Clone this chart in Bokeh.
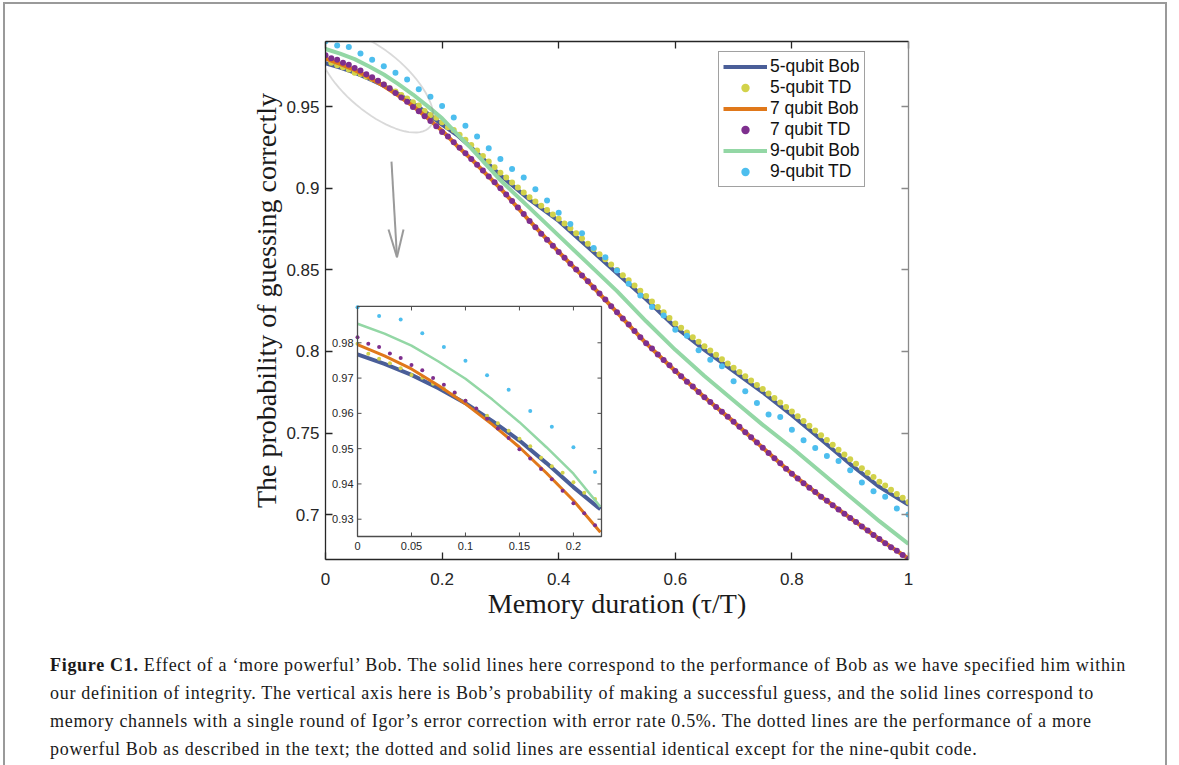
import math
from bokeh.plotting import figure
from bokeh.models import (Range1d, LinearAxis, FixedTicker, Legend, LegendItem,
                          Arrow, PolyAnnotation, Div)
from bokeh.layouts import column
from bokeh.embed import file_html
from bokeh.resources import INLINE
from bokeh.core.properties import value

# ---------------- data ----------------
bob_x = [0.0, 0.025, 0.05, 0.075, 0.1, 0.125, 0.15, 0.175, 0.2, 0.225, 0.25, 0.3, 0.35,
         0.4, 0.45, 0.5, 0.55, 0.6, 0.65, 0.7, 0.75, 0.8, 0.85, 0.9, 0.95, 1.0]
bob5 = [0.9767, 0.9740, 0.9709, 0.9671, 0.9629, 0.9578, 0.9523, 0.9459, 0.9391, 0.9328,
        0.9250, 0.9080, 0.8930, 0.8800, 0.8640, 0.8480, 0.8320, 0.8150, 0.8010, 0.7880,
        0.7750, 0.7610, 0.7460, 0.7310, 0.7170, 0.7060]
bob7 = [0.9795, 0.9763, 0.9726, 0.9679, 0.9627, 0.9568, 0.9504, 0.9431, 0.9353, 0.9263,
        0.9180, 0.9000, 0.8800, 0.8610, 0.8430, 0.8240, 0.8050, 0.7880, 0.7720, 0.7570,
        0.7410, 0.7250, 0.7110, 0.6980, 0.6850, 0.6730]
bob9 = [0.9854, 0.9826, 0.9792, 0.9747, 0.9698, 0.9639, 0.9575, 0.9504, 0.9429, 0.9335,
        0.9245, 0.9050, 0.8880, 0.8710, 0.8540, 0.8370, 0.8185, 0.8010, 0.7850, 0.7700,
        0.7550, 0.7410, 0.7260, 0.7110, 0.6960, 0.6820]

td_x = [round(i * 0.01, 2) for i in range(101)]
td5 = [0.9797, 0.9769, 0.9755, 0.9742, 0.9728, 0.9709, 0.9701, 0.9684, 0.9670, 0.9657,
       0.9636, 0.9613, 0.9593, 0.9572, 0.9551, 0.9528, 0.9507, 0.9474, 0.9450, 0.9432,
       0.9405, 0.9375, 0.9357, 0.9328, 0.9298, 0.9265, 0.9232, 0.9198, 0.9165, 0.9130,
       0.9095, 0.9066, 0.9036, 0.9005, 0.8975, 0.8945, 0.8920, 0.8893, 0.8867, 0.8840,
       0.8813, 0.8785, 0.8755, 0.8724, 0.8692, 0.8660, 0.8628, 0.8596, 0.8565, 0.8533,
       0.8500, 0.8468, 0.8436, 0.8404, 0.8372, 0.8340, 0.8306, 0.8273, 0.8240, 0.8205,
       0.8172, 0.8145, 0.8116, 0.8088, 0.8060, 0.8032, 0.8006, 0.7980, 0.7953, 0.7926,
       0.7900, 0.7874, 0.7848, 0.7822, 0.7795, 0.7770, 0.7742, 0.7715, 0.7688, 0.7660,
       0.7632, 0.7603, 0.7574, 0.7545, 0.7516, 0.7487, 0.7457, 0.7428, 0.7398, 0.7369,
       0.7340, 0.7312, 0.7285, 0.7257, 0.7230, 0.7202, 0.7178, 0.7152, 0.7127, 0.7103,
       0.7078]
td7 = [0.9816, 0.9797, 0.9788, 0.9770, 0.9757, 0.9737, 0.9722, 0.9700, 0.9681, 0.9659,
       0.9636, 0.9614, 0.9585, 0.9557, 0.9530, 0.9498, 0.9472, 0.9442, 0.9413, 0.9381,
       0.9345, 0.9317, 0.9283, 0.9248, 0.9215, 0.9180, 0.9145, 0.9110, 0.9072, 0.9038,
       0.9000, 0.8962, 0.8922, 0.8882, 0.8842, 0.8800, 0.8762, 0.8722, 0.8685, 0.8648,
       0.8610, 0.8575, 0.8538, 0.8502, 0.8465, 0.8430, 0.8392, 0.8355, 0.8318, 0.8278,
       0.8240, 0.8202, 0.8165, 0.8125, 0.8088, 0.8050, 0.8018, 0.7982, 0.7948, 0.7915,
       0.7880, 0.7848, 0.7815, 0.7785, 0.7752, 0.7720, 0.7690, 0.7660, 0.7630, 0.7600,
       0.7570, 0.7538, 0.7505, 0.7475, 0.7442, 0.7410, 0.7378, 0.7345, 0.7315, 0.7282,
       0.7250, 0.7222, 0.7192, 0.7165, 0.7138, 0.7110, 0.7085, 0.7058, 0.7032, 0.7005,
       0.6980, 0.6955, 0.6928, 0.6902, 0.6875, 0.6850, 0.6825, 0.6800, 0.6778, 0.6752,
       0.6728]
td9_x = [round(i * 0.02, 2) for i in range(51)]
td9 = [0.9901, 0.9876, 0.9866, 0.9827, 0.9788, 0.9749, 0.9708, 0.9667, 0.9607, 0.9562,
       0.9504, 0.9434, 0.9384, 0.9318, 0.9245, 0.9180, 0.9119, 0.9066, 0.8994, 0.8925,
       0.8851, 0.8782, 0.8725, 0.8635, 0.8578, 0.8496, 0.8415, 0.8343, 0.8272, 0.8221,
       0.8133, 0.8097, 0.8007, 0.7950, 0.7909, 0.7817, 0.7756, 0.7684, 0.7613, 0.7598,
       0.7521, 0.7456, 0.7409, 0.7360, 0.7329, 0.7272, 0.7197, 0.7144, 0.7109, 0.7038,
       0.7001]

series_labels = ["5-qubit Bob", "5-qubit TD", "7 qubit Bob", "7 qubit TD", "9-qubit Bob", "9-qubit TD"]

x_ticks = [0, 0.2, 0.4, 0.6, 0.8, 1.0]
x_tick_labels = ["0", "0.2", "0.4", "0.6", "0.8", "1"]
y_ticks = [0.7, 0.75, 0.8, 0.85, 0.9, 0.95]
y_tick_labels = ["0.7", "0.75", "0.8", "0.85", "0.9", "0.95"]
inset_x_ticks = [0, 0.05, 0.1, 0.15, 0.2]
inset_x_labels = ["0", "0.05", "0.1", "0.15", "0.2"]
inset_y_ticks = [0.93, 0.94, 0.95, 0.96, 0.97, 0.98]
inset_y_labels = ["0.93", "0.94", "0.95", "0.96", "0.97", "0.98"]

caption_lines = [
    "<b>Figure C1.</b> Effect of a \u2018more powerful\u2019 Bob. The solid lines here correspond to the performance of Bob as we have specified him within",
    "our definition of integrity. The vertical axis here is Bob\u2019s probability of making a successful guess, and the solid lines correspond to",
    "memory channels with a single round of Igor\u2019s error correction with error rate 0.5%. The dotted lines are the performance of a more",
    "powerful Bob as described in the text; the dotted and solid lines are essential identical except for the nine-qubit code.",
]

# ---------------- styles ----------------
C_B5, C_T5 = "#4a5e98", "#d2d24a"
C_B7, C_T7 = "#e0781a", "#7e2f8e"
C_B9, C_T9 = "#93d7a5", "#4dbeee"
AX = "#262626"
SANS = "Liberation Sans"
SERIF = "Liberation Serif"

W, H = 1160, 636
FL, FR, FT, FB = 320, 257, 37, 81
p = figure(width=W, height=H, x_range=Range1d(0, 1), y_range=Range1d(0.6725, 0.99),
           output_backend="svg", toolbar_location=None,
           min_border_left=FL, min_border_right=FR, min_border_top=FT, min_border_bottom=FB)
p.grid.visible = False
p.outline_line_color = None
p.background_fill_color = "white"
p.border_fill_color = "white"
PX_X = (W - FL - FR) / (p.x_range.end - p.x_range.start)   # pixels per x unit
PX_Y = (H - FT - FB) / (p.y_range.end - p.y_range.start)   # pixels per y unit

def style_axis(ax, ticks, labels, color=AX, show_labels=True):
    ax.ticker = FixedTicker(ticks=ticks)
    ax.major_label_overrides = {t: l for t, l in zip(ticks, labels)}
    ax.major_tick_in = 7
    ax.major_tick_out = 0
    ax.minor_tick_line_color = None
    ax.axis_line_color = color
    ax.axis_line_width = 1.3
    ax.major_tick_line_color = color
    ax.major_tick_line_width = 1.3
    ax.major_label_text_font = SANS
    ax.major_label_text_font_size = "17px"
    ax.major_label_text_color = AX if show_labels else None

style_axis(p.xaxis[0], x_ticks, x_tick_labels)
style_axis(p.yaxis[0], y_ticks, y_tick_labels)
p.xaxis[0].major_label_standoff = 13
p.yaxis[0].major_label_standoff = 6
p.xaxis[0].axis_label = "Memory duration (\u03c4/T)"
p.yaxis[0].axis_label = "The probability of guessing correctly"
for ax in (p.xaxis[0], p.yaxis[0]):
    ax.axis_label_text_font = SERIF
    ax.axis_label_text_font_size = "28px"
    ax.axis_label_text_font_style = "normal"
    ax.axis_label_text_color = "#1a1a1a"
p.xaxis[0].axis_label_standoff = 0
p.yaxis[0].axis_label_standoff = 1

top_ax = LinearAxis()
style_axis(top_ax, x_ticks, x_tick_labels, show_labels=False)
top_ax.major_label_text_font_size = "0px"
p.add_layout(top_ax, "above")
right_ax = LinearAxis()
style_axis(right_ax, y_ticks, y_tick_labels, color="#8a8a8a", show_labels=False)
right_ax.major_label_text_font_size = "0px"
p.add_layout(right_ax, "right")

# ---------------- main curves ----------------
r_b5 = p.line(bob_x, bob5, line_color=C_B5, line_width=4)
r_t5 = p.scatter(td_x, td5, marker="circle", size=6, fill_color=C_T5, line_color=None)
r_b7 = p.line(bob_x, bob7, line_color=C_B7, line_width=4)
r_t7 = p.scatter(td_x, td7, marker="circle", size=6, fill_color=C_T7, line_color=None)
r_b9 = p.line(bob_x, bob9, line_color=C_B9, line_width=4)
r_t9 = p.scatter(td9_x, td9, marker="circle", size=6, fill_color=C_T9, line_color=None)

# zoom ellipse and arrow (decorations)
ell_cx, ell_cy, ell_a, ell_b, ell_th = 0.0866, 0.9655, 70.5, 30.5, -0.70
ell_xs, ell_ys = [], []
for k in range(73):
    t = 2 * math.pi * k / 72
    dx = ell_a * math.cos(t) * math.cos(ell_th) - ell_b * math.sin(t) * math.sin(ell_th)
    dy = ell_a * math.cos(t) * math.sin(ell_th) + ell_b * math.sin(t) * math.cos(ell_th)
    ell_xs.append(ell_cx + dx / PX_X)
    ell_ys.append(ell_cy + dy / PX_Y)
p.add_layout(PolyAnnotation(xs=ell_xs, ys=ell_ys, fill_alpha=0, fill_color=None,
                            line_color="#808080", line_width=1.8, level="overlay"))
ARW = dict(line_color="#9a9a9a", line_width=2, end=None, level="overlay")
p.add_layout(Arrow(x_start=0.1132, y_start=0.9164, x_end=0.1226, y_end=0.8578, **ARW))
p.add_layout(Arrow(x_start=0.1081, y_start=0.8748, x_end=0.1226, y_end=0.8578, **ARW))
p.add_layout(Arrow(x_start=0.1338, y_start=0.8748, x_end=0.1226, y_end=0.8578, **ARW))

# ---------------- inset (sub-coordinates) ----------------
ix = Range1d(0, 0.226)
iy = Range1d(0.9251, 0.9903)
sub = p.subplot(x_source=ix, y_source=iy,
                x_target=Range1d(0.0549, 0.4734), y_target=Range1d(0.6866, 0.8276))
INSET_W = (0.4734 - 0.0549) * PX_X
INSET_H = (0.8276 - 0.6866) * PX_Y
tlx = 4 * (ix.end - ix.start) / INSET_W
tly = 4 * (iy.end - iy.start) / INSET_H

sub.quad(left=[ix.start], right=[ix.end], bottom=[iy.start], top=[iy.end],
         fill_color="white", line_color=None)

def clip(xs, ys):
    pts = [(a, b) for a, b in zip(xs, ys) if a <= ix.end + 1e-9]
    return [a for a, _ in pts], [b for _, b in pts]

sub.line(*clip(bob_x, bob5), line_color=C_B5, line_width=4)
sub.scatter(*clip(td_x, td5), marker="circle", size=4, fill_color=C_T5, line_color=None)
sub.line(*clip(bob_x, bob7), line_color=C_B7, line_width=3)
sub.scatter(*clip(td_x, td7), marker="circle", size=4, fill_color=C_T7, line_color=None)
sub.line(*clip(bob_x, bob9), line_color=C_B9, line_width=2.5)
sub.scatter(*clip(td9_x, td9), marker="circle", size=4, fill_color=C_T9, line_color=None)

IAX = "#4d4d4d"
n = len(inset_x_ticks)
sub.segment(x0=inset_x_ticks, y0=[iy.start] * n, x1=inset_x_ticks, y1=[iy.start + tly] * n,
            line_color=IAX, line_width=1)
sub.segment(x0=inset_x_ticks, y0=[iy.end] * n, x1=inset_x_ticks, y1=[iy.end - tly] * n,
            line_color=IAX, line_width=1)
m = len(inset_y_ticks)
sub.segment(x0=[ix.start] * m, y0=inset_y_ticks, x1=[ix.start + tlx] * m, y1=inset_y_ticks,
            line_color=IAX, line_width=1)
sub.segment(x0=[ix.end] * m, y0=inset_y_ticks, x1=[ix.end - tlx] * m, y1=inset_y_ticks,
            line_color=IAX, line_width=1)
sub.quad(left=[ix.start], right=[ix.end], bottom=[iy.start], top=[iy.end],
         fill_color=None, line_color=IAX, line_width=1.3)
sub.text(x=inset_x_ticks, y=[iy.start] * n, text=inset_x_labels, x_offset=0, y_offset=6,
         text_align="center", text_baseline="top", text_font=value(SANS),
         text_font_size="11px", text_color=AX)
sub.text(x=[ix.start] * m, y=inset_y_ticks, text=inset_y_labels, x_offset=-4, y_offset=0,
         text_align="right", text_baseline="middle", text_font=value(SANS),
         text_font_size="11px", text_color=AX)

# ---------------- legend ----------------
legend = Legend(items=[LegendItem(label=l, renderers=[r]) for l, r in
                       zip(series_labels, [r_b5, r_t5, r_b7, r_t7, r_b9, r_t9])],
                location=(393, 372), orientation="vertical")
legend.label_text_font = SANS
legend.label_text_font_size = "17.5px"
legend.label_text_color = "#111111"
legend.padding = 4
legend.spacing = 0
legend.margin = 0
legend.glyph_width = 44
legend.glyph_height = 21
legend.label_height = 21
legend.label_standoff = 3
legend.border_line_color = "#444444"
legend.border_line_width = 1
legend.background_fill_color = "white"
legend.background_fill_alpha = 1
p.add_layout(legend)

# ---------------- caption ----------------
cap_html = ("<div style=\"font-family:'Liberation Serif',serif;font-size:18px;line-height:28px;"
            "color:#1a1a1a;white-space:nowrap;letter-spacing:0.7px;padding-left:40px;padding-top:6px;\">"
            + "<br>".join(caption_lines) + "</div>")
cap = Div(text=cap_html, width=W, height=125)

page = column(p, cap, spacing=0, width=W + 4, sizing_mode="fixed",
              styles={"margin-left": "3px", "margin-top": "2px",
                      "border-top": "2px solid #9a9a9a", "border-left": "2px solid #9a9a9a",
                      "border-right": "2px solid #9a9a9a"})

open("out.html", "w").write(file_html(page, INLINE))
